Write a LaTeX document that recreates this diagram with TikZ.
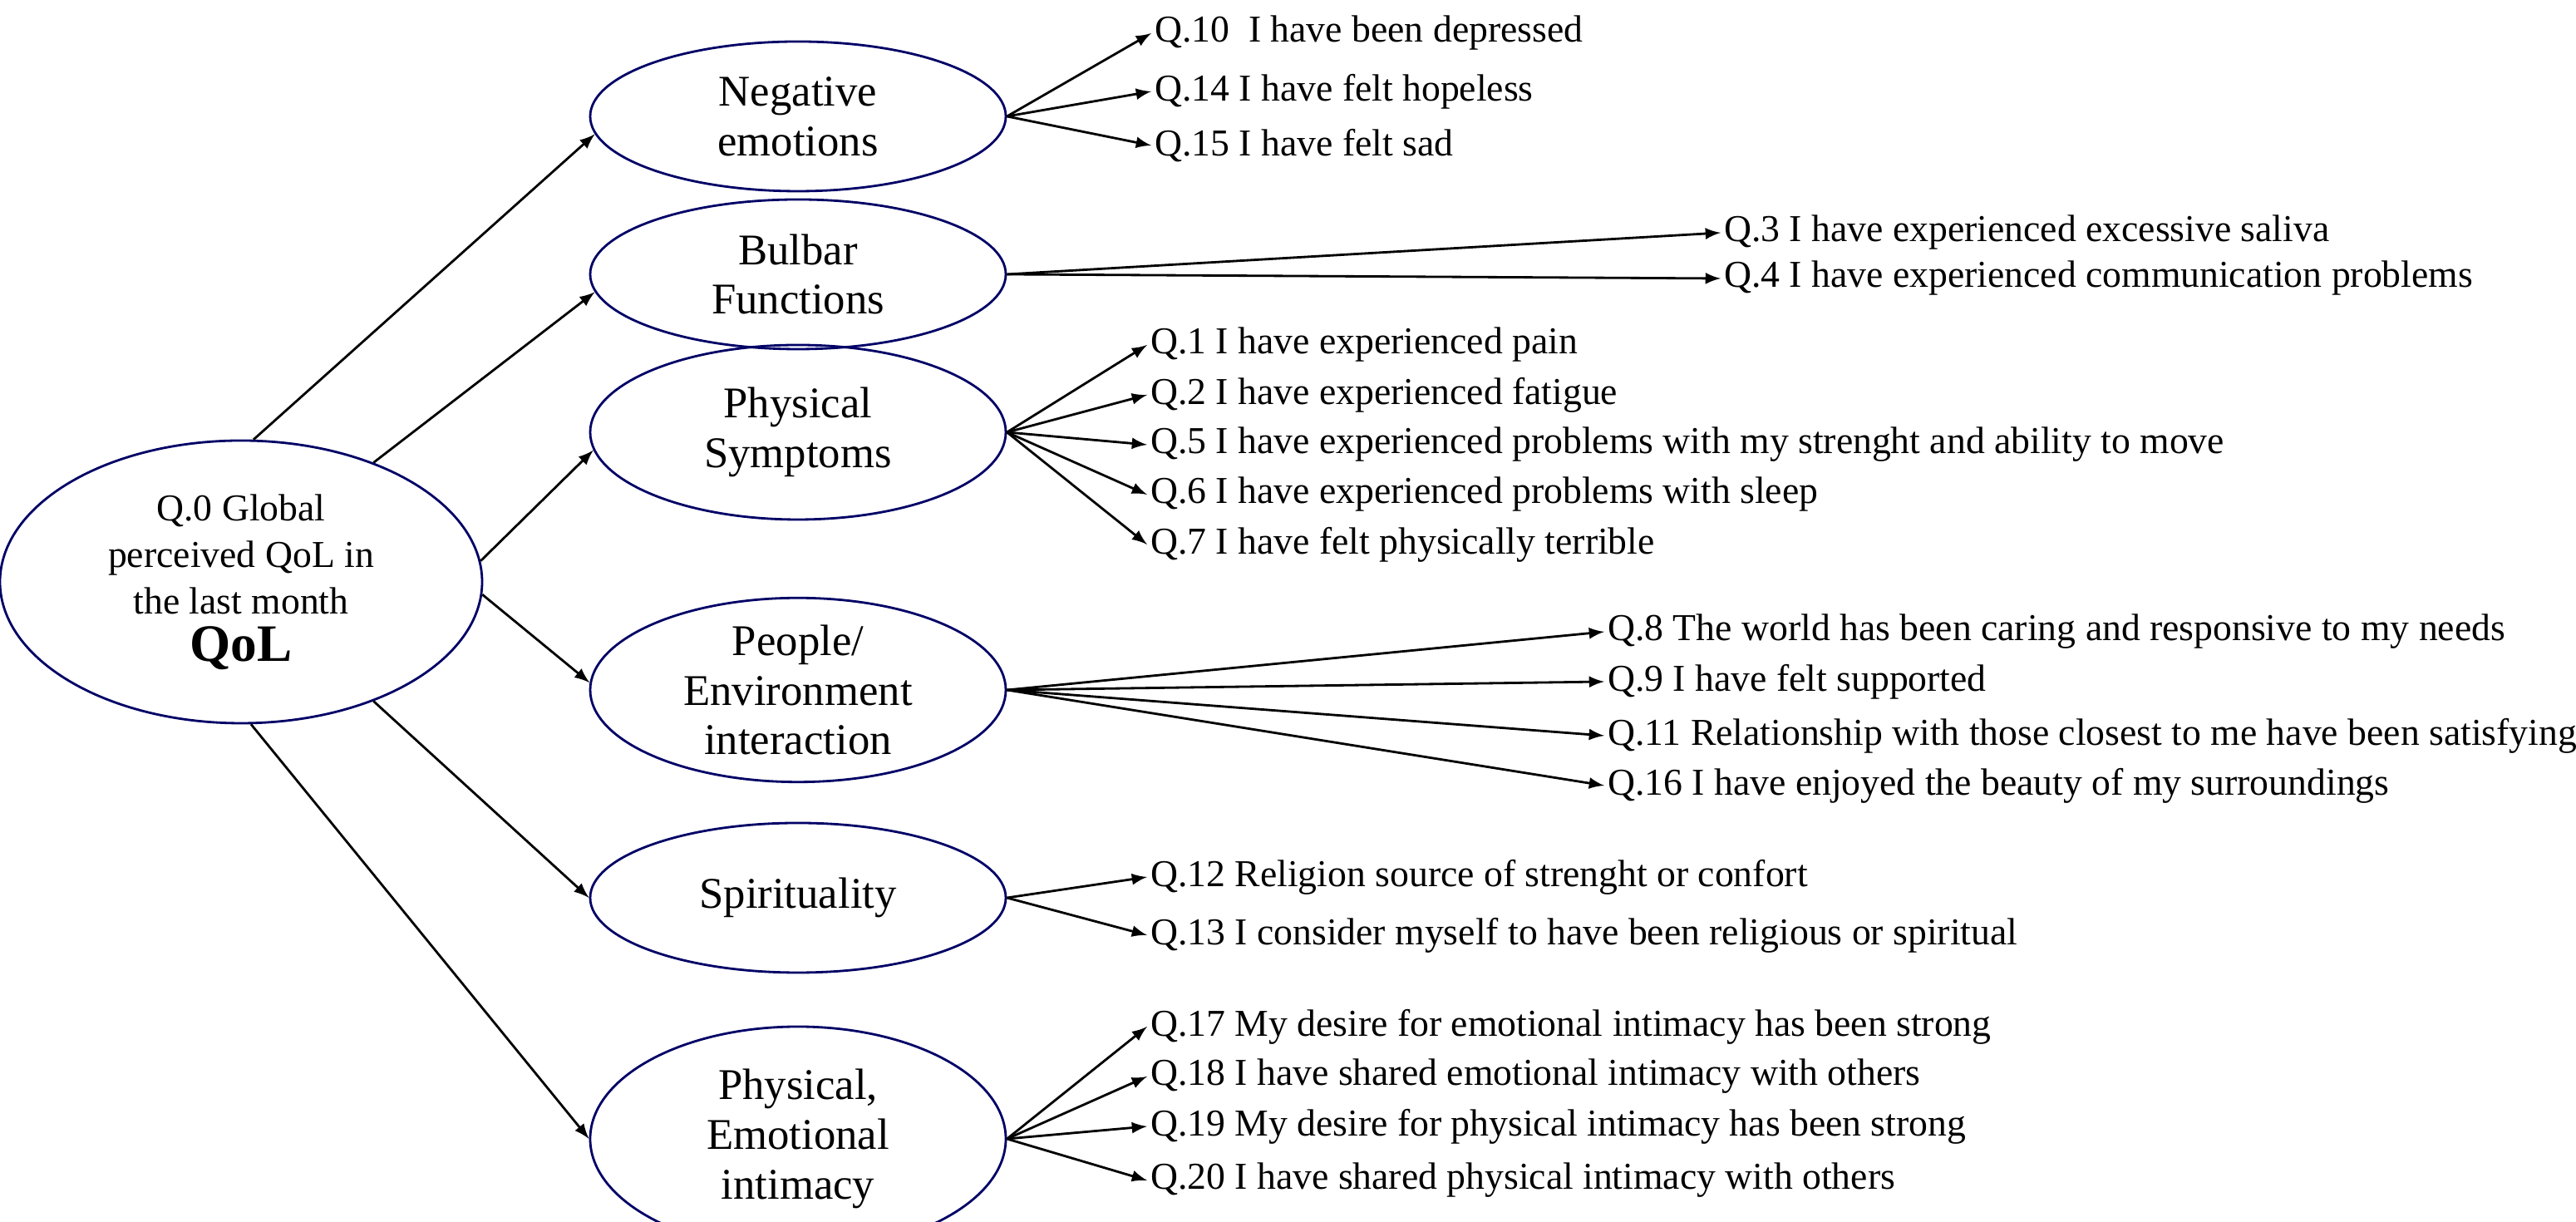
\documentclass[tikz,border=0pt]{standalone}
\usepackage{fontspec}
\setmainfont{Liberation Serif}
\usetikzlibrary{shapes.geometric}
\tikzset{
  fac/.style={draw=black!60!blue, ellipse, thick, minimum width=5cm, minimum height=1.8cm, align=center, inner sep=0pt, font=\fontsize{15}{17}\selectfont},
  item/.style={anchor=west, inner sep=1pt, font=\fontsize{13}{15}\selectfont},
  arr/.style={->, >=latex, thick}
}
\begin{document}
\begin{tikzpicture}
\useasboundingbox (0,0) rectangle (30.99,14.7);
% factors
\node[fac, minimum width=5.8cm, minimum height=3.4cm, font=\fontsize{13}{16}\selectfont] (qol) at (2.9,7.7) {Q.0 Global\\ perceived QoL in\\ the last month\\ {\fontsize{18}{20}\selectfont\bfseries QoL}};
\node[fac] (neg) at (9.6,13.3) {Negative\\ emotions};
\node[fac] (bul) at (9.6,11.4) {Bulbar\\ Functions};
\node[fac, minimum height=2.1cm] (phy) at (9.6,9.5) {Physical\\ Symptoms};
\node[fac, minimum height=1.8cm] (peo) at (9.6,6.4) {People/\\ Environment\\ interaction};
\node[fac] (spi) at (9.6,3.9) {Spirituality};
\node[fac, minimum height=2.7cm] (int) at (9.6,1.0) {Physical,\\ Emotional\\ intimacy};
% items
\node[item] (q10) at (13.85,14.3) {Q.10~ I have been depressed};
\node[item] (q14) at (13.85,13.6) {Q.14 I have felt hopeless};
\node[item] (q15) at (13.85,12.95) {Q.15 I have felt sad};
\node[item] (q3) at (20.7,11.9) {Q.3 I have experienced excessive saliva};
\node[item] (q4) at (20.7,11.35) {Q.4 I have experienced communication problems};
\node[item] (q1) at (13.8,10.55) {Q.1 I have experienced pain};
\node[item] (q2) at (13.8,9.95) {Q.2 I have experienced fatigue};
\node[item] (q5) at (13.8,9.35) {Q.5 I have experienced problems with my strenght and ability to move};
\node[item] (q6) at (13.8,8.75) {Q.6 I have experienced problems with sleep};
\node[item] (q7) at (13.8,8.15) {Q.7 I have felt physically terrible};
\node[item] (q8) at (19.3,7.1) {Q.8 The world has been caring and responsive to my needs};
\node[item] (q9) at (19.3,6.5) {Q.9 I have felt supported};
\node[item] (q11) at (19.3,5.85) {Q.11 Relationship with those closest to me have been satisfying};
\node[item] (q16) at (19.3,5.25) {Q.16 I have enjoyed the beauty of my surroundings};
\node[item] (q12) at (13.8,4.15) {Q.12 Religion source of strenght or confort};
\node[item] (q13) at (13.8,3.45) {Q.13 I consider myself to have been religious or spiritual};
\node[item] (q17) at (13.8,2.35) {Q.17 My desire for emotional intimacy has been strong};
\node[item] (q18) at (13.8,1.75) {Q.18 I have shared emotional intimacy with others};
\node[item] (q19) at (13.8,1.15) {Q.19 My desire for physical intimacy has been strong};
\node[item] (q20) at (13.8,0.5) {Q.20 I have shared physical intimacy with others};
% arrows from QoL
\draw[arr] (qol.85) -- (neg.185);
\draw[arr] (qol.42) -- (bul.185);
\draw[arr] (qol.5) -- (phy.185);
\draw[arr] (qol.-3) -- (peo.178);
\draw[arr] (qol.-42) -- (spi.180);
\draw[arr] (qol.-86) -- (int.180);
% arrows to items
\foreach \q in {q10,q14,q15} \draw[arr] (neg.east) -- (\q.west);
\foreach \q in {q3,q4} \draw[arr] (bul.east) -- (\q.west);
\foreach \q in {q1,q2,q5,q6,q7} \draw[arr] (phy.east) -- (\q.west);
\foreach \q in {q8,q9,q11,q16} \draw[arr] (peo.east) -- (\q.west);
\foreach \q in {q12,q13} \draw[arr] (spi.east) -- (\q.west);
\foreach \q in {q17,q18,q19,q20} \draw[arr] (int.east) -- (\q.west);
\end{tikzpicture}
\end{document}
